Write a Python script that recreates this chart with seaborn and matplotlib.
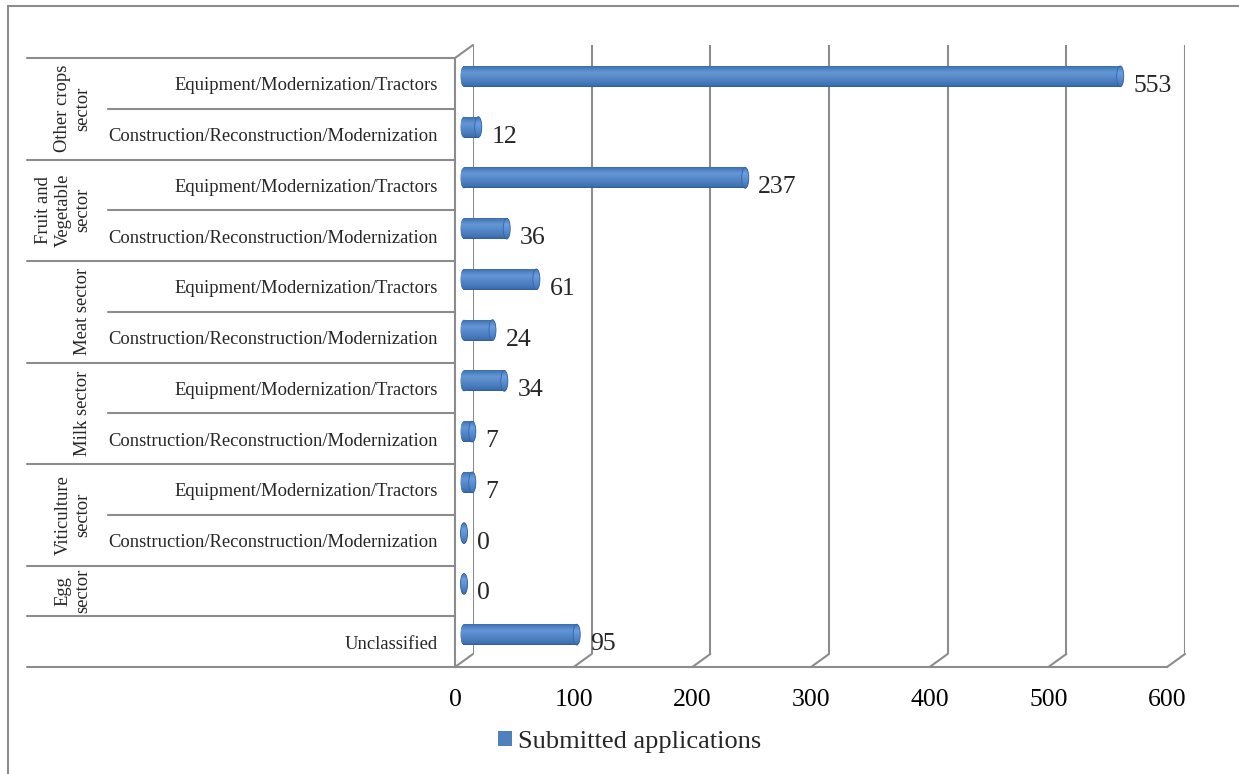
import numpy as np
import pandas as pd
import matplotlib
matplotlib.use("Agg")
import matplotlib.pyplot as plt
from matplotlib.patches import Ellipse, Rectangle, Patch
from matplotlib.lines import Line2D
from matplotlib.colors import LinearSegmentedColormap
import matplotlib.transforms as mtransforms
import seaborn as sns

# ---------------------------------------------------------------- data
sectors = [
    "Other crops\nsector", "Other crops\nsector",
    "Fruit and\nVegetable\nsector", "Fruit and\nVegetable\nsector",
    "Meat sector", "Meat sector",
    "Milk sector", "Milk sector",
    "Viticulture\nsector", "Viticulture\nsector",
    "Egg\nsector", "",
]
measures = [
    "Equipment/Modernization/Tractors", "Construction/Reconstruction/Modernization",
    "Equipment/Modernization/Tractors", "Construction/Reconstruction/Modernization",
    "Equipment/Modernization/Tractors", "Construction/Reconstruction/Modernization",
    "Equipment/Modernization/Tractors", "Construction/Reconstruction/Modernization",
    "Equipment/Modernization/Tractors", "Construction/Reconstruction/Modernization",
    "", "Unclassified",
]
applications = [553, 12, 237, 36, 61, 24, 34, 7, 7, 0, 0, 95]
x_ticks = [0, 100, 200, 300, 400, 500, 600]
series_name = "Submitted applications"

# ---------------------------------------------------------------- style
sns.set_style("white")
plt.rcParams["font.family"] = ["Liberation Serif", "DejaVu Serif"]

W, H = 1239, 774
GRAY = "#8c8c8c"
BLUE = "#4f81bd"
LW = 1.5

# front plane of the 3-D box (pixels), depth offsets of back wall and bars
FX0, FX1, FTOP, FBOT = 455, 1167, 58, 667
BACK_DX, BACK_DY = 18, 13
BAR_DX, BAR_DY = 9, 7

fig = plt.figure(figsize=(W / 100, H / 100), dpi=100)


def px_axes(dx, dy):
    return fig.add_axes([(FX0 + dx) / W, 1 - (FBOT - dy) / H,
                         (FX1 - FX0) / W, (FBOT - FTOP) / H])


n = len(applications)
ylim = (n - 0.5, -0.5)
xlim = (x_ticks[0], x_ticks[-1])

ax_back = px_axes(BACK_DX, BACK_DY)
ax = px_axes(0, 0)
ax_bar = px_axes(BAR_DX, BAR_DY)
for a in (ax_back, ax, ax_bar):
    a.set_xlim(*xlim)
    a.set_ylim(*ylim)
    a.patch.set_visible(False)

# ---------------------------------------------------------------- back wall
ax_back.axis("off")
for v in x_ticks:
    ax_back.axvline(v, color=GRAY, lw=LW)

# ---------------------------------------------------------------- front plane
for side in ("top", "right"):
    ax.spines[side].set_visible(False)
for side in ("bottom", "left"):
    ax.spines[side].set_color(GRAY)
    ax.spines[side].set_linewidth(LW)

ax.set_xticks(x_ticks)
ax.set_xticklabels([str(v) for v in x_ticks], fontsize=18.5)
ax.tick_params(axis="x", direction="out", length=3.6, width=LW, color=GRAY,
               pad=12, labelcolor="black")
ax.set_yticks(range(n))
ax.set_yticklabels([""] * n)
ax.tick_params(axis="y", length=0)

# sub-category labels
for i, m in enumerate(measures):
    if m:
        ax.annotate(m, xy=(0, i), xycoords=("axes fraction", "data"),
                    xytext=(-17 * 0.72, -2.5 * 0.72), textcoords="offset points",
                    ha="right", va="center", fontsize=13.4, annotation_clip=False)

# floor edges joining the front axis to the back wall
inv = ax.transData.inverted()
for v, yv in [(v, ylim[0]) for v in x_ticks] + [(x_ticks[0], ylim[1])]:
    p_back = inv.transform(ax_back.transData.transform((v, yv)))
    ax.add_line(Line2D([v, p_back[0]], [yv, p_back[1]],
                       color=GRAY, lw=LW, clip_on=False))

# multi-level category grid on the left
blend = mtransforms.blended_transform_factory(fig.transFigure, ax.transData)
FULL_X, INNER_X = 27 / W, 108 / W
bounds = [(-0.5, FULL_X), (n - 0.5, FULL_X)]
for i in range(n - 1):
    bounds.append((i + 0.5, FULL_X if sectors[i] != sectors[i + 1] else INNER_X))
for yb, xs in bounds:
    ax.add_line(Line2D([xs, FX0 / W], [yb, yb], transform=blend,
                       color=GRAY, lw=LW, clip_on=False))

seen = []
for s in sectors:
    if s and s not in seen:
        seen.append(s)
for s in seen:
    idx = [i for i, t in enumerate(sectors) if t == s]
    ax.text(91 / W, np.mean(idx), s, transform=blend, rotation=90,
            ha="right", va="center", multialignment="center", fontsize=13.4)

# ---------------------------------------------------------------- bars
keys = [f"{s}|{m}" for s, m in zip(sectors, measures)]
df = pd.DataFrame({"row": keys, "applications": applications})
sns.barplot(data=df, x="applications", y="row", order=keys, orient="h",
            width=0.41, color=BLUE, saturation=1, ax=ax_bar)
ax_bar.set_xlim(*xlim)
ax_bar.set_ylim(*ylim)
ax_bar.axis("off")

cyl = LinearSegmentedColormap.from_list("cyl", [
    (0.0, "#3d6cab"), (0.1, "#4b7fc0"), (0.3, "#6597d6"), (0.5, "#5a8bcb"),
    (0.75, "#4a7dbe"), (0.92, "#3f70b0"), (1.0, "#305c96")])
grad = cyl(np.linspace(0, 1, 64))[:, None, :3]
face_grad = np.clip(grad * 1.05, 0, 1)

px_per_unit = (FX1 - FX0) / (xlim[1] - xlim[0])
cap_w = 7 / px_per_unit


def shaded(patch, img, extent, z):
    ax_bar.add_patch(patch)
    patch.set_clip_on(False)
    im = ax_bar.imshow(img, extent=extent, aspect="auto",
                       interpolation="bicubic", zorder=z)
    im.set_clip_box(fig.bbox)
    im.set_clip_path(patch)
    return im


for p in list(ax_bar.patches):
    x0, y0, w, h = p.get_x(), p.get_y(), p.get_width(), p.get_height()
    yc = y0 + h / 2
    # rounded start of the cylinder
    e0 = Ellipse((x0, yc), cap_w, h, facecolor=BLUE, edgecolor="none", zorder=2)
    shaded(e0, grad, (x0 - cap_w / 2, x0 + cap_w / 2, y0 + h, y0), 2.1)
    # body
    p.set_zorder(3)
    p.set_edgecolor("none")
    if w > 0:
        im = ax_bar.imshow(grad, extent=(x0, x0 + w, y0 + h, y0),
                           aspect="auto", interpolation="bicubic", zorder=3.1)
        im.set_clip_path(p)
    # end face
    e1 = Ellipse((x0 + w, yc), cap_w, h, facecolor=BLUE, edgecolor="none", zorder=4)
    shaded(e1, face_grad, (x0 + w - cap_w / 2, x0 + w + cap_w / 2, y0 + h, y0), 4.1)
    edge = Ellipse((x0 + w, yc), cap_w, h, facecolor="none",
                   edgecolor="#3566a3", lw=0.6, zorder=4.2)
    ax_bar.add_patch(edge)
    edge.set_clip_on(False)

ax_bar.set_xlim(*xlim)
ax_bar.set_ylim(*ylim)

# value labels
for i, v in enumerate(applications):
    ax.annotate(str(v), xy=(v, i), xytext=(22 * 0.72, -2.5 * 0.72),
                textcoords="offset points", ha="left", va="center",
                fontsize=18.5, annotation_clip=False)

# ---------------------------------------------------------------- legend and frame
fig.legend(handles=[Patch(facecolor=BLUE, edgecolor="none", label=series_name)],
           loc="center", bbox_to_anchor=(629.5 / W, 1 - 742 / H), frameon=False,
           fontsize=19, handlelength=0.53, handleheight=0.53, handletextpad=0.23,
           borderpad=0, borderaxespad=0)

fig.add_artist(Rectangle((8 / W, -0.1), 1.5, 1.1 - 6 / H, transform=fig.transFigure,
                         fill=False, edgecolor=GRAY, lw=LW))

fig.savefig("out.png", dpi=100, facecolor="white")
